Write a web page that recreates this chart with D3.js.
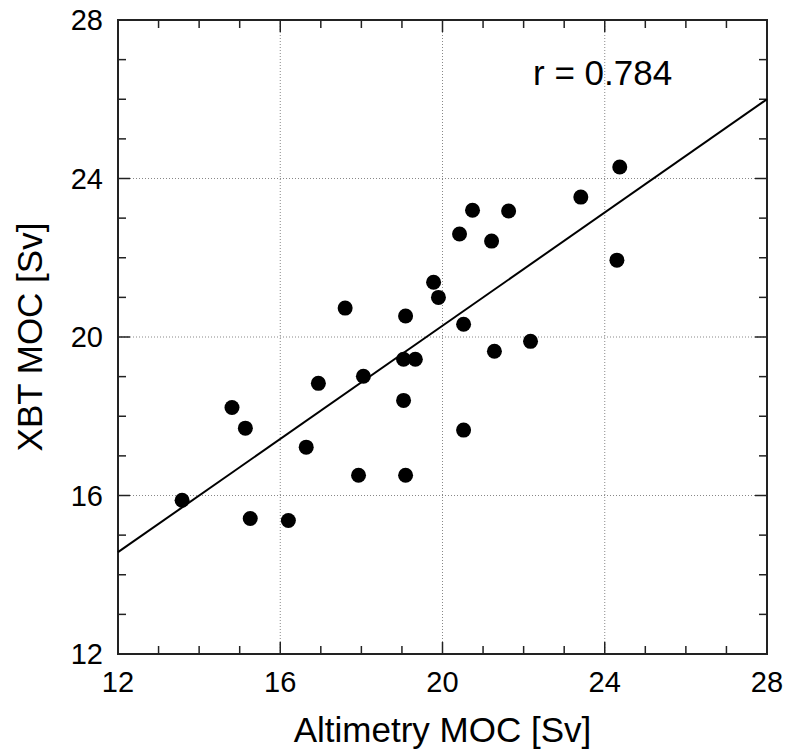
<!DOCTYPE html>
<html>
<head>
<meta charset="utf-8">
<script src="https://cdn.jsdelivr.net/npm/d3@7"></script>
<style>
  body { margin: 0; background: #fff; }
  text { font-family: "Liberation Sans", Arial, Helvetica, sans-serif; fill: #000; }
</style>
</head>
<body>
<div id="chart"></div>
<script>
// Altimetry MOC (x) vs XBT MOC (y), Sv
var altimetry = [13.58, 14.81, 15.14, 15.26, 16.20, 16.64, 16.94, 17.60, 17.93, 18.05,
                 19.04, 19.04, 19.09, 19.09, 19.33, 19.78, 19.90, 20.42, 20.52, 20.52,
                 20.74, 21.21, 21.28, 21.63, 22.17, 23.41, 24.30, 24.37];
var xbt = [15.88, 18.22, 17.70, 15.42, 15.37, 17.22, 18.83, 20.73, 16.51, 19.01,
           18.40, 19.44, 20.53, 16.51, 19.44, 21.38, 21.00, 22.60, 20.32, 17.65,
           23.20, 22.42, 19.64, 23.18, 19.89, 23.53, 21.94, 24.29];
var majorTicks = [12, 16, 20, 24, 28];
var fitLine = [{x: 12, y: 14.57}, {x: 28, y: 26.0}];
var rLabel = "r = 0.784";

var width = 788, height = 751,
    margin = {left: 118, right: 21, top: 20, bottom: 97};

var svg = d3.select("#chart").append("svg")
    .attr("width", width)
    .attr("height", height);

var xScale = d3.scaleLinear().domain([12, 28]).range([margin.left, width - margin.right]),
    yScale = d3.scaleLinear().domain([12, 28]).range([height - margin.bottom, margin.top]);

var x0 = xScale.range()[0], x1 = xScale.range()[1],
    y0 = yScale.range()[0], y1 = yScale.range()[1];

var minor = d3.range(12, 28.01, 1).filter(function (v) { return majorTicks.indexOf(v) < 0; });
var inner = majorTicks.filter(function (v) { return v > 12 && v < 28; });

// grid
var grid = svg.append("g").attr("stroke", "#888").attr("stroke-width", 1).attr("stroke-dasharray", "1,2");
grid.selectAll(".gx").data(inner).enter().append("line")
  .attr("x1", function (d) { return xScale(d); }).attr("x2", function (d) { return xScale(d); })
  .attr("y1", y0).attr("y2", y1);
grid.selectAll(".gy").data(inner).enter().append("line")
  .attr("y1", function (d) { return yScale(d); }).attr("y2", function (d) { return yScale(d); })
  .attr("x1", x0).attr("x2", x1);

// ticks on all four sides, pointing inward
var ticks = svg.append("g").attr("stroke", "#222").attr("stroke-width", 1.5);
function tickLen(v) { return majorTicks.indexOf(v) >= 0 ? 12 : 8; }
var allT = minor.concat(inner);
allT.forEach(function (v) {
  var L = tickLen(v);
  ticks.append("line").attr("x1", xScale(v)).attr("x2", xScale(v)).attr("y1", y0).attr("y2", y0 - L);
  ticks.append("line").attr("x1", xScale(v)).attr("x2", xScale(v)).attr("y1", y1).attr("y2", y1 + L);
  ticks.append("line").attr("y1", yScale(v)).attr("y2", yScale(v)).attr("x1", x0).attr("x2", x0 + L);
  ticks.append("line").attr("y1", yScale(v)).attr("y2", yScale(v)).attr("x1", x1).attr("x2", x1 - L);
});

// frame
svg.append("rect")
  .attr("x", x0).attr("y", y1)
  .attr("width", x1 - x0).attr("height", y0 - y1)
  .attr("fill", "none").attr("stroke", "#222").attr("stroke-width", 2);

// tick labels
svg.selectAll(".xl").data(majorTicks).enter().append("text")
  .attr("x", function (d) { return xScale(d); })
  .attr("y", y0 + 38)
  .attr("text-anchor", "middle")
  .style("font-size", "29px")
  .text(function (d) { return d; });
svg.selectAll(".yl").data(majorTicks).enter().append("text")
  .attr("x", x0 - 15)
  .attr("y", function (d) { return yScale(d) + 10; })
  .attr("text-anchor", "end")
  .style("font-size", "29px")
  .text(function (d) { return d; });

// regression line
svg.append("line")
  .attr("x1", xScale(fitLine[0].x)).attr("y1", yScale(fitLine[0].y))
  .attr("x2", xScale(fitLine[1].x)).attr("y2", yScale(fitLine[1].y))
  .attr("stroke", "#000").attr("stroke-width", 2);

// points
svg.selectAll("circle").data(altimetry).enter().append("circle")
  .attr("cx", function (d) { return xScale(d); })
  .attr("cy", function (d, i) { return yScale(xbt[i]); })
  .attr("r", 7.5)
  .attr("fill", "#000");

// r label
svg.append("text")
  .attr("x", 533).attr("y", 85)
  .style("font-size", "35px")
  .text(rLabel);

// axis titles
svg.append("text")
  .attr("x", (x0 + x1) / 2).attr("y", 742)
  .attr("text-anchor", "middle")
  .style("font-size", "35px")
  .text("Altimetry MOC [Sv]");
svg.append("text")
  .attr("transform", "translate(42," + ((y0 + y1) / 2) + ") rotate(-90)")
  .attr("text-anchor", "middle")
  .style("font-size", "35px")
  .text("XBT MOC [Sv]");
</script>
</body>
</html>
